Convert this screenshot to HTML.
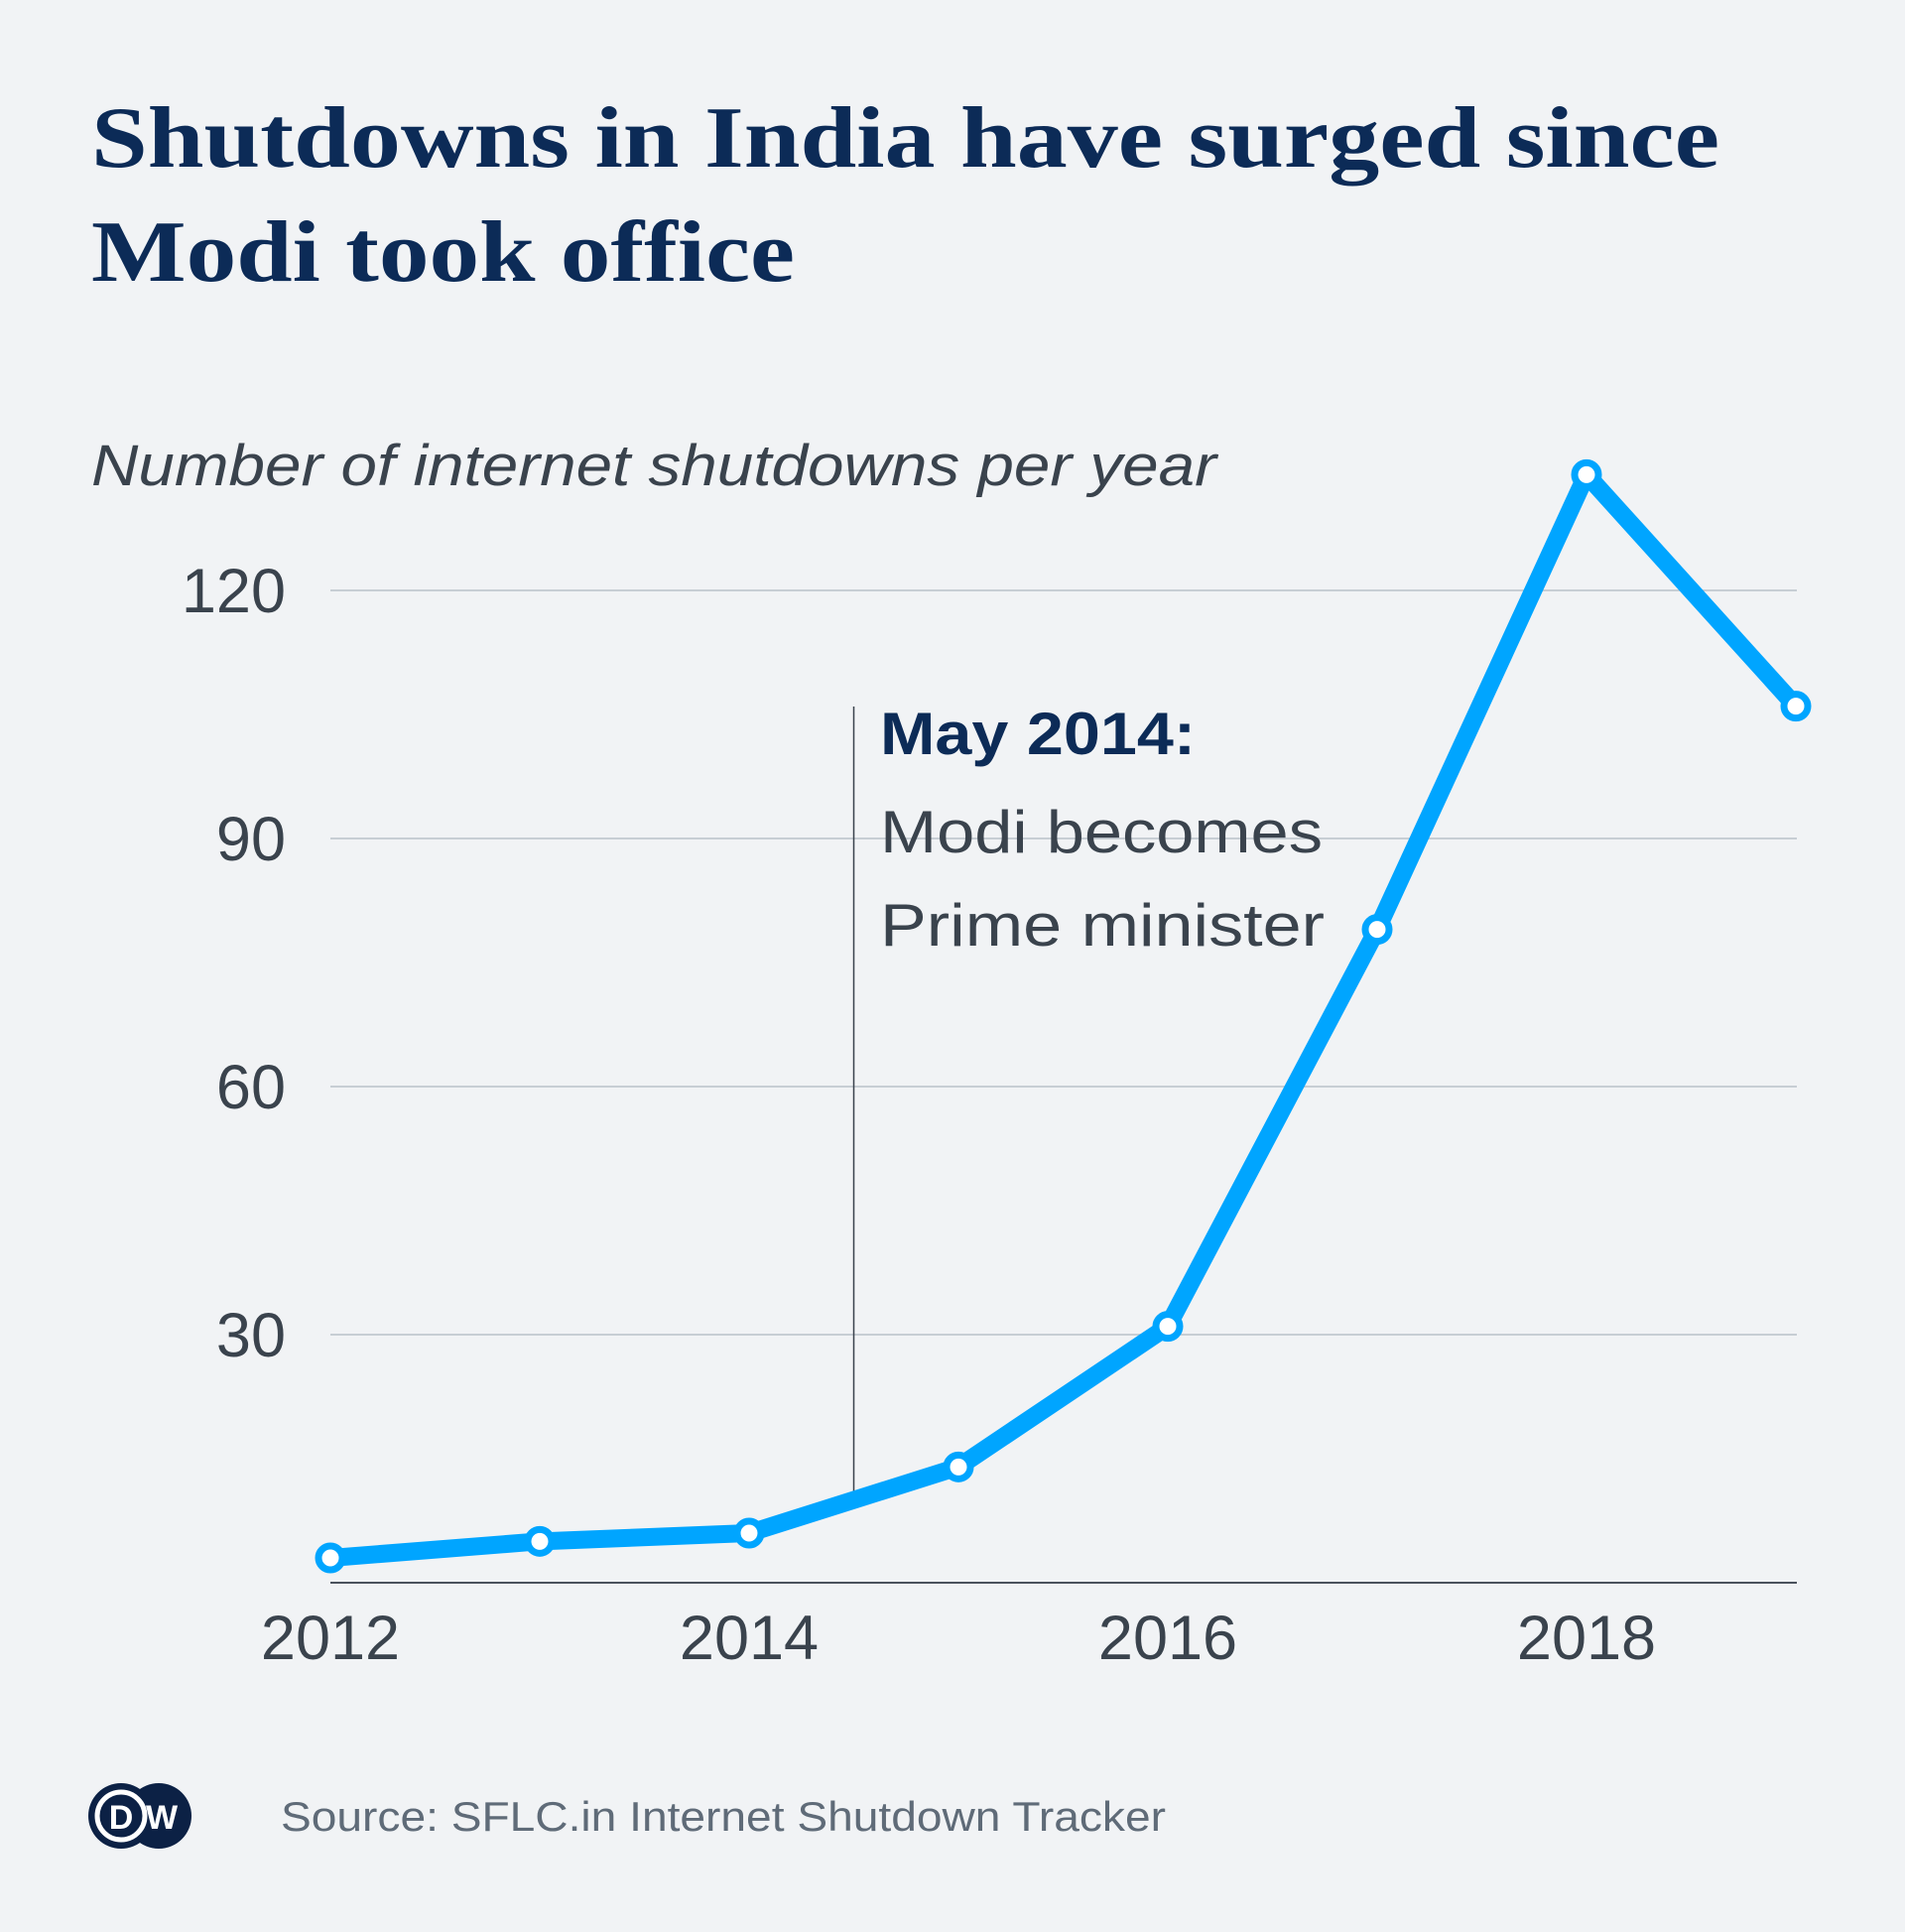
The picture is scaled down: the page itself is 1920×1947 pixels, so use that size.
<!DOCTYPE html>
<html><head><meta charset="utf-8">
<style>
html,body{margin:0;padding:0;background:#f1f3f5;}
svg{display:block;}
</style></head>
<body>
<svg width="1920" height="1947" viewBox="0 0 1920 1947" xmlns="http://www.w3.org/2000/svg">
<rect width="1920" height="1947" fill="#f1f3f5"/>
<text x="92" y="168" textLength="1641" lengthAdjust="spacingAndGlyphs" font-family="Liberation Serif, serif" font-weight="bold" font-size="88" fill="#0c2b57">Shutdowns in India have surged since</text>
<text x="92" y="283" textLength="709" lengthAdjust="spacingAndGlyphs" font-family="Liberation Serif, serif" font-weight="bold" font-size="88" fill="#0c2b57">Modi took office</text>
<text x="92" y="489" textLength="1134" lengthAdjust="spacingAndGlyphs" font-family="Liberation Sans, sans-serif" font-style="italic" font-size="58" fill="#3a434d">Number of internet shutdowns per year</text>
<g id="grid"></g>
<g id="ylabels"></g>
<g id="xlabels"></g>
<g id="annot"></g>
<g id="series"></g>
<g>
<circle cx="122" cy="1830" r="33" fill="#0c2145"/>
<circle cx="160" cy="1830" r="33" fill="#0c2145"/>
<circle cx="122" cy="1830" r="24" fill="none" stroke="#fff" stroke-width="5"/>
<text x="122" y="1843" text-anchor="middle" font-family="Liberation Sans, sans-serif" font-weight="bold" font-size="34" fill="#fff">D</text>
<text x="163" y="1843" text-anchor="middle" font-family="Liberation Sans, sans-serif" font-weight="bold" font-size="34" fill="#fff">W</text>
</g>
<text x="283" y="1845" textLength="892" lengthAdjust="spacingAndGlyphs" font-family="Liberation Sans, sans-serif" font-size="42" fill="#5f6b78">Source: SFLC.in Internet Shutdown Tracker</text>
</svg>
<script>
const years = [2012, 2013, 2014, 2015, 2016, 2017, 2018, 2019];
const shutdowns = [3, 5, 6, 14, 31, 79, 134, 106];
const yTicks = [0, 30, 60, 90, 120];
const xTicks = [2012, 2014, 2016, 2018];
const annotYear = 2014.5;
const annotStart = 6;
const NS = "http://www.w3.org/2000/svg";
const X0 = 333, XPER = 211, Y0 = 1595, YPER = 250/30, XR = 1811;
function xs(v){return X0 + (v-2012)*XPER;}
function ys(v){return Y0 - v*YPER;}
function mk(tag, attrs, parent){const e=document.createElementNS(NS,tag);for(const k in attrs)e.setAttribute(k,attrs[k]);parent.appendChild(e);return e;}
const grid=document.getElementById('grid'), yl=document.getElementById('ylabels'), xl=document.getElementById('xlabels'), an=document.getElementById('annot'), se=document.getElementById('series');
yTicks.forEach(t=>{
  const l=mk('line',{x1:X0,x2:XR,y1:ys(t),y2:ys(t),stroke:t===0?'#4a525c':'#b9c1ca','stroke-width':t===0?2:1.5},grid);
  
  
  if(t>0){
    const tx=mk('text',{x:288,y:ys(t)+22,'text-anchor':'end','font-family':'Liberation Sans, sans-serif','font-size':63,fill:'#3a434d'},yl);
    tx.textContent=t;
    
    
  }
});
xTicks.forEach(t=>{
  const tx=mk('text',{x:xs(t),y:1672,'text-anchor':'middle','font-family':'Liberation Sans, sans-serif','font-size':63,fill:'#3a434d'},xl);
  tx.textContent=t;
  
  
});
const ax=xs(annotYear);
const al=mk('line',{x1:ax,x2:ax,y1:712,y2:ys(annotStart+3.6),stroke:'#3a434d','stroke-width':1.5},an);


const ad=mk('circle',{cx:ax,cy:ys(annotStart+3.6),r:3.5,fill:'#3a434d'},an);


const lines=[['May 2014:','bold','#0c2b57',760,318],['Modi becomes','normal','#3a434d',859,446],['Prime minister','normal','#3a434d',953,448]];
lines.forEach((L,i)=>{
  const tx=mk('text',{x:887,y:L[3],textLength:L[4],lengthAdjust:'spacingAndGlyphs','font-family':'Liberation Sans, sans-serif','font-size':60,'font-weight':L[1],fill:L[2]},an);
  tx.textContent=L[0];
  
  
});
const pts=years.map((y,i)=>xs(y)+','+ys(shutdowns[i])).join(' ');
const pl=mk('polyline',{points:pts,fill:'none',stroke:'#00a5ff','stroke-width':18,'stroke-linejoin':'round'},se);


years.forEach((y,i)=>{
  const c=mk('circle',{cx:xs(y),cy:ys(shutdowns[i]),r:12,fill:'#fff',stroke:'#00a5ff','stroke-width':7},se);
  
  
});
</script>
</body></html>
